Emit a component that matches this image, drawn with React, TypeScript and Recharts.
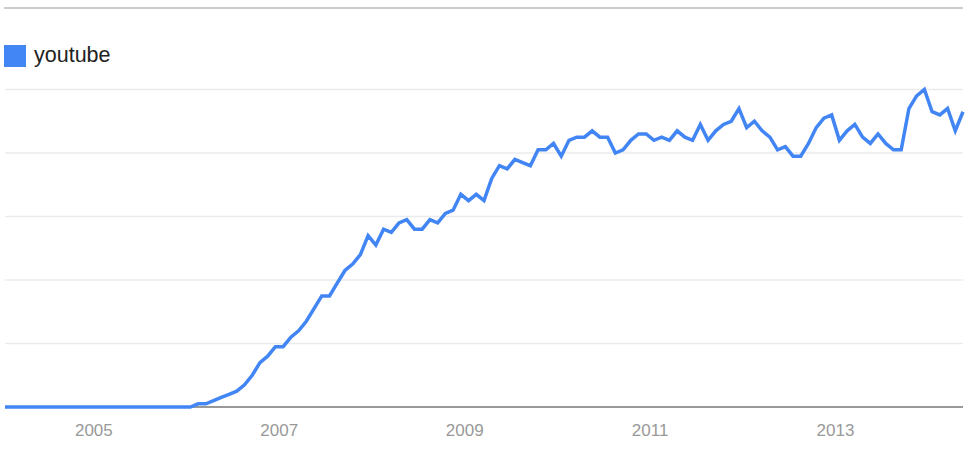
import * as React from "react";
import { LineChart, Line, XAxis, YAxis, CartesianGrid, Legend } from "recharts";

const SERIES_NAME = "youtube";
const BLUE = "#4285f4";
const FONT = '"Liberation Sans", Arial, sans-serif';

const START_YEAR = 2004;

// monthly search interest (0-100), one array per year
const interest2004 = [0, 0, 0, 0, 0, 0, 0, 0, 0, 0, 0, 0];
const interest2005 = [0, 0, 0, 0, 0, 0, 0, 0, 0, 0, 0, 0];
const interest2006 = [0, 1, 1, 2, 3, 4, 5, 7, 10, 14, 16, 19];
const interest2007 = [19, 22, 24, 27, 31, 35, 35, 39, 43, 45, 48, 54];
const interest2008 = [51, 56, 55, 58, 59, 56, 56, 59, 58, 61, 62, 67];
const interest2009 = [65, 67, 65, 72, 76, 75, 78, 77, 76, 81, 81, 83];
const interest2010 = [79, 84, 85, 85, 87, 85, 85, 80, 81, 84, 86, 86];
const interest2011 = [84, 85, 84, 87, 85, 84, 89, 84, 87, 89, 90, 94];
const interest2012 = [88, 90, 87, 85, 81, 82, 79, 79, 83, 88, 91, 92];
const interest2013 = [84, 87, 89, 85, 83, 86, 83, 81, 81, 94, 98, 100];
const interest2014 = [93, 92, 94, 87, 93];

const yearTicks = [2005, 2007, 2009, 2011, 2013];
const gridValues = [20, 40, 60, 80, 100];

const allValues = [
  ...interest2004,
  ...interest2005,
  ...interest2006,
  ...interest2007,
  ...interest2008,
  ...interest2009,
  ...interest2010,
  ...interest2011,
  ...interest2012,
  ...interest2013,
  ...interest2014,
];

const data = allValues.map((v, i) => ({
  idx: i,
  month: `${START_YEAR + Math.floor(i / 12)}-${String((i % 12) + 1).padStart(2, "0")}`,
  [SERIES_NAME]: v,
}));

// year labels sit on the boundary just before January
const tickPositions = yearTicks.map((y) => (y - START_YEAR) * 12 - 0.5);

function LegendContent() {
  return (
    <div style={{ display: "flex", alignItems: "center", fontFamily: FONT }}>
      <span
        style={{
          display: "inline-block",
          width: 22,
          height: 22,
          background: BLUE,
        }}
      />
      <span style={{ marginLeft: 8, fontSize: 21.5, color: "#222" }}>
        {SERIES_NAME}
      </span>
    </div>
  );
}

export default function App() {
  return (
    <div
      style={{
        position: "absolute",
        left: 0,
        top: 0,
        width: 973,
        height: 449,
        background: "#fff",
      }}
    >
      <div
        style={{
          position: "absolute",
          left: 4,
          top: 7,
          width: 959,
          height: 1.5,
          background: "#cccccc",
        }}
      />
      <LineChart
        width={973}
        height={449}
        data={data}
        margin={{ top: 89.5, right: 10, left: 5, bottom: 0 }}
      >
        <CartesianGrid
          vertical={false}
          stroke="#ebebeb"
          strokeWidth={1.5}
          horizontalValues={gridValues}
        />
        {/* baseline drawn as a grid line so the series sits on top of it */}
        <CartesianGrid
          vertical={false}
          stroke="#999999"
          strokeWidth={2}
          horizontalValues={[0]}
        />
        <YAxis hide domain={[0, 100]} ticks={gridValues} />
        <XAxis
          type="number"
          dataKey="idx"
          domain={[0, allValues.length - 1]}
          ticks={tickPositions}
          tickFormatter={(t: number) => String(Math.round(START_YEAR + (t + 0.5) / 12))}
          height={42}
          tickLine={false}
          tickMargin={11}
          axisLine={false}
          tick={{ fontSize: 17, fill: "#999999", fontFamily: FONT }}
        />
        <Legend
          layout="horizontal"
          verticalAlign="middle"
          align="center"
          wrapperStyle={{ top: 43, left: 4, width: 300 }}
          content={() => <LegendContent />}
        />
        <Line
          type="linear"
          dataKey={SERIES_NAME}
          stroke={BLUE}
          strokeWidth={3.5}
          dot={false}
          activeDot={false}
          isAnimationActive={false}
        />
      </LineChart>
    </div>
  );
}
